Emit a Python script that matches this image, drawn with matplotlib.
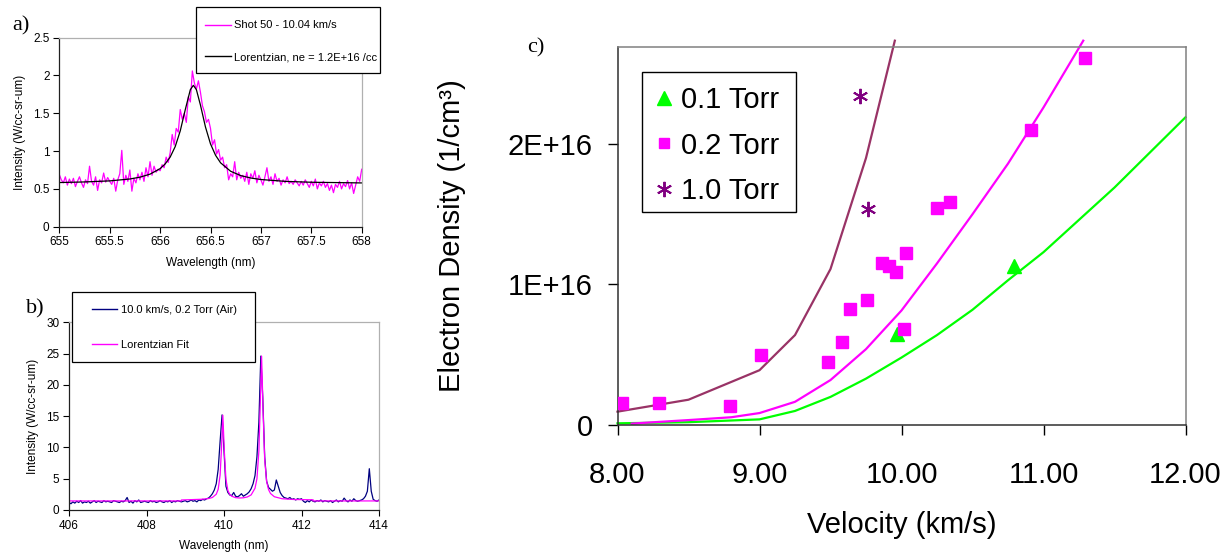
import matplotlib
matplotlib.use('Agg')
import matplotlib.pyplot as plt
import numpy as np
from matplotlib.lines import Line2D
from matplotlib.patches import Rectangle


W, H = 1230, 557          # output size in px (dpi 100)

SANS  = 'Liberation Sans'
SERIF = 'Liberation Serif'

MAGENTA = '#FF00FF'
GREEN   = '#00FF00'
NAVY    = '#000080'
PLUM    = '#993366'
PURPLE  = '#800080'

# ---------------------------------------------------------------- panel a
# H-alpha line, shot 50, sampled every 0.02 nm from 655.00 to 658.00
a_wl_range = (655.0, 658.0)
a_signal = [
    0.69, 0.62, 0.58, 0.66, 0.55, 0.63, 0.57, 0.64, 0.53, 0.60, 0.66, 0.58, 0.52, 0.62, 0.57,
    0.80, 0.60, 0.55, 0.66, 0.48, 0.62, 0.58, 0.71, 0.59, 0.65, 0.60, 0.56, 0.64, 0.47, 0.62,
    0.70, 1.01, 0.56, 0.68, 0.60, 0.75, 0.47, 0.64, 0.58, 0.70, 0.62, 0.72, 0.60, 0.78, 0.66,
    0.86, 0.68, 0.80, 0.72, 0.76, 0.74, 0.82, 0.78, 0.92, 0.85, 0.98, 1.22, 1.08, 1.30, 1.25,
    1.55, 1.42, 1.50, 1.38, 1.72, 1.65, 2.06, 1.90, 1.82, 1.93, 1.78, 1.60, 1.52, 1.38, 1.42,
    1.30, 1.08, 1.15, 0.96, 1.02, 0.88, 0.92, 0.78, 0.82, 0.62, 0.70, 0.66, 0.86, 0.62, 0.72,
    0.64, 0.68, 0.60, 0.72, 0.56, 0.70, 0.64, 0.74, 0.58, 0.68, 0.62, 0.55, 0.66, 0.78, 0.60,
    0.66, 0.56, 0.70, 0.60, 0.64, 0.55, 0.62, 0.58, 0.66, 0.57, 0.60, 0.56, 0.62, 0.58, 0.54,
    0.60, 0.55, 0.62, 0.57, 0.52, 0.60, 0.54, 0.63, 0.50, 0.58, 0.54, 0.60, 0.52, 0.57, 0.48,
    0.55, 0.45, 0.56, 0.52, 0.60, 0.50, 0.57, 0.53, 0.61, 0.50, 0.58, 0.44, 0.55, 0.66, 0.60,
    0.76,
]
a_fit_wl = [655.0, 655.25, 655.5, 655.7, 655.8, 655.9, 656.0, 656.05, 656.1, 656.15,
            656.2, 656.25, 656.3, 656.33, 656.36, 656.4, 656.45, 656.5, 656.55, 656.6,
            656.7, 656.8, 656.9, 657.0, 657.25, 657.5, 658.0]
a_fit = [0.584, 0.592, 0.606, 0.631, 0.655, 0.695, 0.768, 0.83, 0.921, 1.06,
         1.268, 1.55, 1.813, 1.87, 1.813, 1.61, 1.319, 1.095, 0.945, 0.845,
         0.733, 0.676, 0.644, 0.624, 0.599, 0.588, 0.579]

# ---------------------------------------------------------------- panel b
# 0.2 Torr air shot, sampled every 0.05 nm from 406.00 to 414.00
b_wl_range = (406.0, 414.0)
b_signal = [
    1.2, 1.0, 1.3, 1.1, 1.4, 1.2, 1.5, 1.1, 1.3, 1.2,
    1.4, 1.1, 1.3, 1.5, 1.2, 1.4, 1.3, 1.2, 1.5, 1.3,
    1.4, 1.3, 1.2, 1.5, 1.4, 1.3, 1.2, 1.4, 1.3, 1.5,
    2.0, 1.2, 1.4, 1.1, 1.5, 1.3, 1.6, 1.2, 1.3, 1.4,
    1.3, 1.2, 1.5, 1.3, 1.4, 1.2, 1.3, 1.5, 1.3, 1.2,
    1.4, 1.3, 1.5, 1.2, 1.4, 1.3, 1.5, 1.4, 1.3, 1.4,
    1.5, 1.3, 1.4, 1.6, 1.4, 1.5, 1.3, 1.6, 1.5, 1.7,
    1.6, 1.8, 1.9, 2.2, 2.6, 3.2, 4.2, 6.5, 11.0, 15.2,
    9.5, 3.8, 2.8, 2.4, 2.3, 2.8, 2.2, 2.1, 2.3, 2.6,
    2.2, 2.4, 2.6, 2.9, 3.4, 4.2, 5.5, 8.5, 14.0, 24.6,
    18.0, 8.5, 4.6, 3.6, 3.3, 3.0, 3.2, 4.8, 3.8, 2.8,
    2.3, 2.0, 1.9, 1.8, 2.0, 1.7, 1.8, 1.6, 1.8, 1.7,
    1.8, 1.4, 1.2, 1.5, 1.3, 1.6, 1.4, 1.3, 1.5, 1.4,
    1.6, 1.3, 1.5, 1.4, 1.3, 1.5, 1.2, 1.4, 1.6, 1.3,
    1.5, 1.4, 1.9, 1.5, 1.3, 1.6, 1.4, 1.8, 1.5, 1.4,
    1.5, 1.6, 1.8, 2.2, 3.0, 6.6, 3.0, 1.7, 1.5, 1.4,
    1.6,
]
b_fit_wl = [406.0, 408.9, 408.9, 409.4, 409.6, 409.7, 409.8, 409.85, 409.9, 409.93,
            409.97, 410.01, 410.05, 410.1, 410.15, 410.2, 410.3, 410.4, 410.5, 410.6,
            410.7, 410.8, 410.85, 410.9, 410.93, 410.97, 411.01, 411.05, 411.1, 411.15,
            411.2, 411.3, 411.5, 411.8, 412.3, 412.3, 414.0]
b_fit = [1.45, 1.45, 1.6, 1.71, 1.83, 2.0, 2.52, 3.31, 5.6, 9.2,
         15.15, 9.2, 4.92, 3.12, 2.48, 2.2, 1.97, 1.92, 1.95, 2.08,
         2.41, 3.47, 5.0, 9.4, 15.6, 24.6, 15.6, 8.06, 4.56, 3.25,
         2.64, 2.12, 1.8, 1.68, 1.63, 1.45, 1.45]

# ---------------------------------------------------------------- panel c
# measured electron density (1/cm^3) vs velocity (km/s)
vel_01 = [9.97, 10.79]
ne_01  = [0.65e16, 1.13e16]
vel_02 = [8.03, 8.29, 8.79, 9.01, 9.48, 9.58, 9.64, 9.76, 9.86, 9.91,
          9.96, 10.03, 10.02, 10.25, 10.34, 10.91, 11.29]
ne_02  = [0.157e16, 0.157e16, 0.133e16, 0.495e16, 0.45e16, 0.59e16, 0.825e16,
          0.89e16, 1.15e16, 1.13e16, 1.09e16, 1.226e16, 0.685e16, 1.547e16,
          1.589e16, 2.10e16, 2.614e16]
vel_10 = [9.71, 9.765]
ne_10  = [2.34e16, 1.54e16]

# equilibrium curves
curve_v_01  = [8.0, 8.5, 9.0, 9.25, 9.5, 9.75, 10.0, 10.25, 10.5, 10.75, 11.0, 11.5, 12.0]
curve_ne_01 = [0.012e16, 0.02e16, 0.04e16, 0.10e16, 0.20e16, 0.33e16, 0.48e16, 0.64e16,
               0.82e16, 1.03e16, 1.23e16, 1.69e16, 2.19e16]
curve_v_02  = [8.1, 8.5, 8.8, 9.0, 9.25, 9.5, 9.75, 10.0, 10.25, 10.5, 10.75, 11.0, 11.28]
curve_ne_02 = [0.01e16, 0.035e16, 0.055e16, 0.085e16, 0.165e16, 0.32e16, 0.54e16,
               0.815e16, 1.15e16, 1.50e16, 1.86e16, 2.26e16, 2.735e16]
curve_v_10  = [8.0, 8.5, 9.0, 9.25, 9.5, 9.75, 9.953]
curve_ne_10 = [0.095e16, 0.18e16, 0.39e16, 0.64e16, 1.11e16, 1.90e16, 2.735e16]

c_yticks  = [0, 1e16, 2e16]
c_ylabels = ['0', '1E+16', '2E+16']


def px_axes(fig, left, top, right, bottom):
    return fig.add_axes([left / W, 1 - bottom / H, (right - left) / W, (bottom - top) / H])


def fig_xy(x, y):
    return x / W, 1 - y / H


def style_spines(ax, dark='#000000', light='#a0a0a0', lw=1.0):
    for side in ('left', 'bottom'):
        ax.spines[side].set_color(dark)
        ax.spines[side].set_linewidth(lw)
    for side in ('top', 'right'):
        ax.spines[side].set_color(light)
        ax.spines[side].set_linewidth(lw)


def boxed_legend(fig, ax, handles, labels, box, anchor, **kw):
    # white frame drawn in figure px, legend content placed by its top-left corner
    x0, y0, x1, y1 = box
    ax.add_artist(Rectangle(fig_xy(x0, y1), (x1 - x0) / W, (y1 - y0) / H,
                            transform=fig.transFigure, facecolor='white',
                            edgecolor='black', lw=0.9, clip_on=False, zorder=4))
    leg = ax.legend(handles, labels, loc='upper left', bbox_to_anchor=fig_xy(*anchor),
                    bbox_transform=fig.transFigure, frameon=False,
                    borderpad=0, borderaxespad=0, **kw)
    leg.set_zorder(5)
    return leg


def fmt_g(v, _):
    return f'{v:g}'


plt.rcParams['font.family'] = SANS

fig = plt.figure(figsize=(W / 100, H / 100), dpi=100)

# ---- panel a
ax_a = px_axes(fig, 59.3, 37.7, 361.7, 226.7)
wl_a = np.linspace(*a_wl_range, len(a_signal))
ax_a.plot(wl_a, a_signal, color=MAGENTA, lw=0.9)
ax_a.plot(a_fit_wl, a_fit, color='black', lw=0.9)
ax_a.set_xlim(*a_wl_range)
ax_a.set_ylim(0, 2.5)
ax_a.set_xticks(np.arange(655, 658.01, 0.5))
ax_a.set_yticks(np.arange(0, 2.51, 0.5))
ax_a.xaxis.set_major_formatter(fmt_g)
ax_a.yaxis.set_major_formatter(fmt_g)
ax_a.tick_params(direction='out', length=4, width=0.8, labelsize=8.5, pad=3)
ax_a.set_xlabel('Wavelength (nm)', fontsize=8.5, labelpad=6)
ax_a.set_ylabel('Intensity (W/cc-sr-um)', fontsize=8.5, labelpad=5)
style_spines(ax_a, dark='#202020', light='#b0b0b0', lw=0.9)
boxed_legend(fig, ax_a,
             [Line2D([], [], color=MAGENTA, lw=1.0), Line2D([], [], color='black', lw=1.0)],
             ['Shot 50 - 10.04 km/s', 'Lorentzian, ne = 1.2E+16 /cc'],
             box=(195.7, 7.3, 380, 73.3), anchor=(205, 20.5),
             fontsize=8, handlelength=2.3, handletextpad=0.3, labelspacing=1.95)
fig.text(*fig_xy(12, 30), 'a)', family=SERIF, fontsize=16)

# ---- panel b
ax_b = px_axes(fig, 69, 322.3, 379, 510)
wl_b = np.linspace(*b_wl_range, len(b_signal))
ax_b.plot(wl_b, b_signal, color=NAVY, lw=0.9)
ax_b.plot(b_fit_wl, b_fit, color=MAGENTA, lw=0.9)
ax_b.set_xlim(*b_wl_range)
ax_b.set_ylim(0, 30)
ax_b.set_xticks(np.arange(406, 414.1, 2))
ax_b.set_yticks(np.arange(0, 30.1, 5))
ax_b.xaxis.set_major_formatter(fmt_g)
ax_b.yaxis.set_major_formatter(fmt_g)
ax_b.tick_params(direction='out', length=4, width=0.8, labelsize=8.5, pad=3)
ax_b.set_xlabel('Wavelength (nm)', fontsize=8.5, labelpad=6)
ax_b.set_ylabel('Intensity (W/cc-sr-um)', fontsize=8.5, labelpad=5)
style_spines(ax_b, dark='#202020', light='#b0b0b0', lw=0.9)
boxed_legend(fig, ax_b,
             [Line2D([], [], color=NAVY, lw=1.0), Line2D([], [], color=MAGENTA, lw=1.0)],
             ['10.0 km/s, 0.2 Torr (Air)', 'Lorentzian Fit'],
             box=(71.7, 292.3, 255, 361.7), anchor=(91.7, 304.5),
             fontsize=8, handlelength=2.3, handletextpad=0.3, labelspacing=2.3)
fig.text(*fig_xy(26, 313), 'b)', family=SERIF, fontsize=16)

# ---- panel c
ax_c = px_axes(fig, 617.5, 47, 1185.5, 425)
ax_c.plot(curve_v_01, curve_ne_01, color=GREEN, lw=1.6, clip_on=False, zorder=2)
ax_c.plot(curve_v_02, curve_ne_02, color=MAGENTA, lw=1.6, clip_on=False, zorder=2)
ax_c.plot(curve_v_10, curve_ne_10, color=PLUM, lw=1.6, clip_on=False, zorder=2)
ax_c.plot(vel_01, ne_01, ls='none', marker='^', ms=9.5, color=GREEN, mec=GREEN, zorder=3)
ax_c.plot(vel_02, ne_02, ls='none', marker='s', ms=8.5, color=MAGENTA, mec=MAGENTA, zorder=3)
ax_c.plot(vel_10, ne_10, ls='none', marker=(6, 2, 0), ms=11, mew=1.4, color=PURPLE, zorder=3)
ax_c.set_xlim(8, 12)
ax_c.set_ylim(0, 2.69e16)
ax_c.set_xticks(np.arange(8, 12.01, 1))
ax_c.xaxis.set_major_formatter(lambda v, _: f'{v:.2f}')
ax_c.set_yticks(c_yticks, c_ylabels)
ax_c.tick_params(direction='out', length=7, width=1.0, labelsize=21)
ax_c.tick_params(axis='x', pad=19)
ax_c.tick_params(axis='y', pad=11)
ax_c.set_xlabel('Velocity (km/s)', fontsize=21, labelpad=16)
ax_c.set_ylabel('Electron Density (1/cm³)', fontsize=21, labelpad=30)
style_spines(ax_c, dark='#303030', light='#808080', lw=1.1)

c_handles = [
    Line2D([], [], ls='none', marker='^', ms=9.5, color=GREEN),
    Line2D([], [], ls='none', marker='s', ms=7, color=MAGENTA),
    Line2D([], [], ls='none', marker=(6, 2, 0), ms=11, mew=1.4, color=PURPLE),
]
ax_c.add_artist(Rectangle(fig_xy(641.7, 212.3), 154 / W, 140 / H,
                          transform=fig.transFigure, facecolor='white',
                          edgecolor='black', lw=1.0, clip_on=False, zorder=4))
leg_c = ax_c.legend(c_handles, ['0.1 Torr', '0.2 Torr', '1.0 Torr'], loc='upper left',
                    bbox_to_anchor=fig_xy(652, 86), bbox_transform=fig.transFigure,
                    frameon=False, borderpad=0, borderaxespad=0, fontsize=21,
                    handlelength=0.8, handletextpad=0.2, labelspacing=0.6)
leg_c.set_zorder(5)
fig.text(*fig_xy(527, 52), 'c)', family=SERIF, fontsize=16)

fig.savefig('out.png', dpi=100)
